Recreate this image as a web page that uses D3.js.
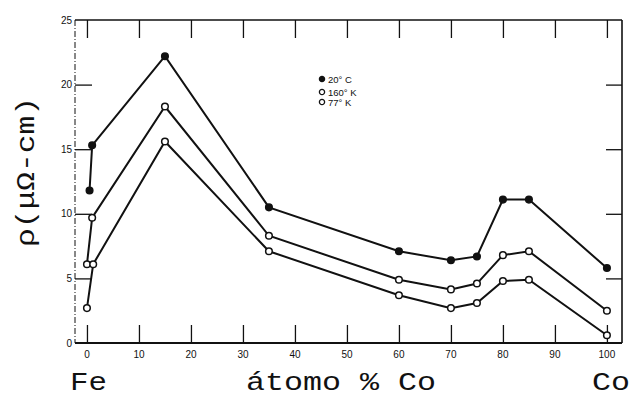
<!DOCTYPE html>
<html>
<head>
<meta charset="utf-8">
<script src="https://cdn.jsdelivr.net/npm/d3@7"></script>
<style>
  html, body { margin: 0; padding: 0; background: #fff; }
  svg { display: block; }
</style>
</head>
<body>
<svg id="chart" width="631" height="400"></svg>
<script>
// Resistivity of Fe–Co alloys vs. cobalt content at three temperatures
const compo20C  = [0.5, 1, 15, 35, 60, 70, 75, 80, 85, 100];
const rho20C    = [11.8, 15.3, 22.2, 10.5, 7.1, 6.4, 6.7, 11.1, 11.1, 5.8];
const compo160K = [0, 1, 15, 35, 60, 70, 75, 80, 85, 100];
const rho160K   = [6.1, 9.7, 18.3, 8.3, 4.9, 4.15, 4.6, 6.8, 7.1, 2.5];
const compo77K  = [0, 1.2, 15, 35, 60, 70, 75, 80, 85, 100];
const rho77K    = [2.7, 6.1, 15.6, 7.1, 3.7, 2.7, 3.1, 4.8, 4.9, 0.6];

const seriesNames = ["20° C", "160° K", "77° K"];
const xTicks = [0, 10, 20, 30, 40, 50, 60, 70, 80, 90, 100];
const yTicks = [0, 5, 10, 15, 20, 25];

const series = [
  { name: seriesNames[0], xs: compo20C,  ys: rho20C,  marker: "filled" },
  { name: seriesNames[1], xs: compo160K, ys: rho160K, marker: "open" },
  { name: seriesNames[2], xs: compo77K,  ys: rho77K,  marker: "open" }
];

const svg = d3.select("#chart");
const plotL = 75, plotR = 622, plotT = 20, plotB = 343;

const x = d3.scaleLinear().domain([-2.3, 102.9]).range([plotL, plotR]);
const y = d3.scaleLinear().domain([0, 25]).range([plotB, plotT]);

// Frame
const frame = svg.append("g").attr("stroke", "#111").attr("fill", "none");
frame.append("line").attr("x1", plotL).attr("x2", plotR).attr("y1", plotT).attr("y2", plotT).attr("stroke-width", 1.4);
frame.append("line").attr("x1", plotL).attr("x2", plotR).attr("y1", plotB).attr("y2", plotB).attr("stroke-width", 2);
frame.append("line").attr("x1", plotL).attr("x2", plotL).attr("y1", plotT).attr("y2", plotB).attr("stroke-width", 1).attr("stroke-dasharray", "6,2,1,2");
frame.append("line").attr("x1", plotR).attr("x2", plotR).attr("y1", plotT).attr("y2", plotB).attr("stroke-width", 1.6);

// Inward ticks on all four sides
const inner = yTicks.filter(v => v > 0 && v < 25);
const bottomAxis = d3.axisBottom(x).tickValues(xTicks).tickSize(-18).tickFormat("");
const topAxis = d3.axisTop(x).tickValues(xTicks).tickSize(-18).tickFormat("");
const leftAxis = d3.axisLeft(y).tickValues(inner).tickSize(-17).tickFormat("");
const rightAxis = d3.axisRight(y).tickValues(inner).tickSize(-16).tickFormat("");

function styleAxis(g) {
  g.select(".domain").remove();
  g.selectAll(".tick line").attr("stroke", "#111").attr("stroke-width", 1.3);
}
svg.append("g").attr("transform", `translate(0,${plotB})`).call(bottomAxis).call(styleAxis);
svg.append("g").attr("transform", `translate(0,${plotT})`).call(topAxis).call(styleAxis);
svg.append("g").attr("transform", `translate(${plotL},0)`).call(leftAxis).call(styleAxis);
svg.append("g").attr("transform", `translate(${plotR},0)`).call(rightAxis).call(styleAxis);

// Tick labels
svg.append("g").selectAll("text").data(xTicks).join("text")
  .attr("x", d => x(d)).attr("y", 358)
  .attr("text-anchor", "middle")
  .attr("font-family", "Liberation Sans, Arial, sans-serif")
  .attr("font-size", 10).attr("fill", "#111")
  .text(d => d);

svg.append("g").selectAll("text").data(yTicks).join("text")
  .attr("x", 72).attr("y", d => y(d) + 3.5)
  .attr("text-anchor", "end")
  .attr("font-family", "Liberation Sans, Arial, sans-serif")
  .attr("font-size", 10).attr("fill", "#111")
  .text(d => d);

// Series lines and markers
const line = d3.line().x(d => x(d[0])).y(d => y(d[1]));
series.forEach(s => {
  const pts = s.xs.map((c, i) => [c, s.ys[i]]);
  svg.append("path").datum(pts)
    .attr("d", line)
    .attr("fill", "none").attr("stroke", "#111").attr("stroke-width", 2);
  svg.append("g").selectAll("circle").data(pts).join("circle")
    .attr("cx", d => x(d[0])).attr("cy", d => y(d[1]))
    .attr("r", 3.3)
    .attr("fill", s.marker === "filled" ? "#111" : "#fff")
    .attr("stroke", "#111").attr("stroke-width", 1.5);
});

// Legend
const legend = svg.append("g").attr("transform", "translate(322,79)");
series.forEach((s, i) => {
  const row = legend.append("g").attr("transform", `translate(0,${[0, 13, 23][i]})`);
  row.append("circle").attr("cx", 0).attr("cy", 0).attr("r", 2.6)
    .attr("fill", s.marker === "filled" ? "#111" : "#fff")
    .attr("stroke", "#111").attr("stroke-width", 1.3);
  row.append("text").attr("x", 6).attr("y", 3.5)
    .attr("font-family", "Liberation Sans, Arial, sans-serif")
    .attr("font-size", 9.5).attr("fill", "#111")
    .text(s.name);
});

// Axis titles in a typewriter face
const mono = "Liberation Mono, DejaVu Sans Mono, monospace";
svg.append("text")
  .attr("transform", "translate(34,172) rotate(-90)")
  .attr("text-anchor", "middle")
  .attr("font-family", mono).attr("font-size", 26).attr("fill", "#111")
  .attr("textLength", 150).attr("lengthAdjust", "spacingAndGlyphs")
  .text("ρ(μΩ-cm)");

svg.append("text").attr("x", 70).attr("y", 390)
  .attr("font-family", mono).attr("font-size", 25).attr("fill", "#111")
  .attr("textLength", 37).attr("lengthAdjust", "spacingAndGlyphs")
  .text("Fe");

svg.append("text").attr("x", 246).attr("y", 390)
  .attr("font-family", mono).attr("font-size", 25).attr("fill", "#111")
  .attr("textLength", 190).attr("lengthAdjust", "spacingAndGlyphs")
  .text("átomo % Co");

svg.append("text").attr("x", 592).attr("y", 390)
  .attr("font-family", mono).attr("font-size", 25).attr("fill", "#111")
  .attr("textLength", 38).attr("lengthAdjust", "spacingAndGlyphs")
  .text("Co");
</script>
</body>
</html>
